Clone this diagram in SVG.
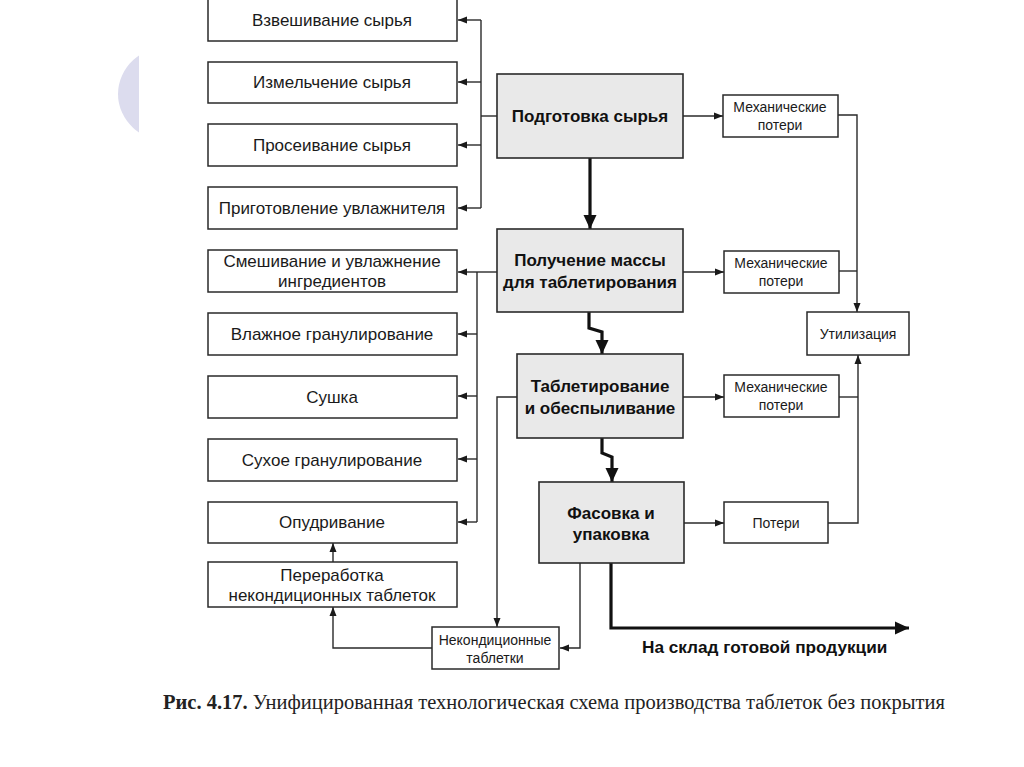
<svg xmlns="http://www.w3.org/2000/svg" width="1024" height="767" viewBox="0 0 1024 767">
<style>
.box{fill:#ffffff;stroke:#2a2a2a;stroke-width:1.5}
.cbox{fill:#e9e9e9;stroke:#2a2a2a;stroke-width:1.6}
.t{font-family:"Liberation Sans",Arial,sans-serif;font-size:17px;fill:#1a1a1a;text-anchor:middle}
.tb{font-family:"Liberation Sans",Arial,sans-serif;font-size:17px;font-weight:bold;fill:#111;text-anchor:middle}
.ts{font-family:"Liberation Sans",Arial,sans-serif;font-size:14px;fill:#1a1a1a;text-anchor:middle}
.ln{fill:none;stroke:#2a2a2a;stroke-width:1.4}
.thick{fill:none;stroke:#111;stroke-width:3.2}
.cap{font-family:"Liberation Serif","Times New Roman",serif;font-size:20.5px;fill:#222}
</style>
<defs>
<marker id="a" markerUnits="userSpaceOnUse" markerWidth="10" markerHeight="10" refX="9" refY="5" orient="auto">
<path d="M0,1.5 L9,5 L0,8.5 Z" fill="#1a1a1a"/>
</marker>
<marker id="A" markerUnits="userSpaceOnUse" markerWidth="16" markerHeight="16" refX="14" refY="8" orient="auto">
<path d="M0,1.5 L14,8 L0,14.5 Z" fill="#111"/>
</marker>
<clipPath id="cl"><rect x="100" y="0" width="39" height="200"/></clipPath>
</defs>
<rect width="1024" height="767" fill="#ffffff"/>
<ellipse cx="170" cy="94" rx="52" ry="48" fill="#dcdcee" clip-path="url(#cl)"/>

<g id="connectors">
<polyline class="ln" points="497,116 481,116"/>
<polyline class="ln" points="481,20 481,208"/>
<line class="ln" x1="481" y1="20" x2="458" y2="20" marker-end="url(#a)"/>
<line class="ln" x1="481" y1="82" x2="458" y2="82" marker-end="url(#a)"/>
<line class="ln" x1="481" y1="145" x2="458" y2="145" marker-end="url(#a)"/>
<line class="ln" x1="481" y1="208" x2="458" y2="208" marker-end="url(#a)"/>
<polyline class="ln" points="497,272 477,272"/>
<polyline class="ln" points="477,272 477,522"/>
<line class="ln" x1="477" y1="272" x2="458" y2="272" marker-end="url(#a)"/>
<line class="ln" x1="477" y1="334" x2="458" y2="334" marker-end="url(#a)"/>
<line class="ln" x1="477" y1="396" x2="458" y2="396" marker-end="url(#a)"/>
<line class="ln" x1="477" y1="459" x2="458" y2="459" marker-end="url(#a)"/>
<line class="ln" x1="477" y1="522" x2="458" y2="522" marker-end="url(#a)"/>
<polyline class="thick" points="590,158 590,229" marker-end="url(#A)"/>
<polyline class="thick" points="589,312 589,328 602,332 602,354" marker-end="url(#A)"/>
<polyline class="thick" points="602,438 602,453 612,457 612,482" marker-end="url(#A)"/>
<polyline class="thick" points="611,563 611,628 909,628" marker-end="url(#A)"/>
<line class="ln" x1="683" y1="116" x2="723" y2="116" marker-end="url(#a)"/>
<line class="ln" x1="683" y1="272" x2="724" y2="272" marker-end="url(#a)"/>
<line class="ln" x1="683" y1="397" x2="724" y2="397" marker-end="url(#a)"/>
<line class="ln" x1="684" y1="523" x2="724" y2="523" marker-end="url(#a)"/>
<polyline class="ln" points="838,115 857,115 857,312" marker-end="url(#a)"/>
<polyline class="ln" points="839,271 857,271"/>
<polyline class="ln" points="839,397 858,397"/>
<polyline class="ln" points="828,523 858,523 858,355" marker-end="url(#a)"/>
<polyline class="ln" points="517,397 497,397 497,627" marker-end="url(#a)"/>
<polyline class="ln" points="580,563 580,648 560,648" marker-end="url(#a)"/>
<polyline class="ln" points="432,648 333,648 333,607" marker-end="url(#a)"/>
<line class="ln" x1="333" y1="562" x2="333" y2="543" marker-end="url(#a)"/>
</g>

<g id="n1"><rect class="box" x="208" y="-1" width="249" height="42"/><text class="t" x="332" y="26">Взвешивание сырья</text></g>
<g id="n2"><rect class="box" x="208" y="62" width="249" height="41"/><text class="t" x="332" y="88">Измельчение сырья</text></g>
<g id="n3"><rect class="box" x="208" y="124" width="249" height="42"/><text class="t" x="332" y="151">Просеивание сырья</text></g>
<g id="n4"><rect class="box" x="208" y="187" width="249" height="42"/><text class="t" x="332" y="214">Приготовление увлажнителя</text></g>
<g id="n5"><rect class="box" x="208" y="250" width="249" height="42"/><text class="t" x="332" y="267">Смешивание и увлажнение</text><text class="t" x="332" y="287">ингредиентов</text></g>
<g id="n6"><rect class="box" x="208" y="313" width="249" height="42"/><text class="t" x="332" y="340">Влажное гранулирование</text></g>
<g id="n7"><rect class="box" x="208" y="376" width="249" height="42"/><text class="t" x="332" y="403">Сушка</text></g>
<g id="n8"><rect class="box" x="208" y="439" width="249" height="42"/><text class="t" x="332" y="466">Сухое гранулирование</text></g>
<g id="n9"><rect class="box" x="208" y="502" width="249" height="41"/><text class="t" x="332" y="528">Опудривание</text></g>
<g id="n10"><rect class="box" x="208" y="562" width="249" height="45"/><text class="t" x="332" y="581">Переработка</text><text class="t" x="332" y="601">некондиционных таблеток</text></g>

<g id="c1"><rect class="cbox" x="497" y="74" width="186" height="84"/><text class="tb" x="590" y="122">Подготовка сырья</text></g>
<g id="c2"><rect class="cbox" x="497" y="229" width="186" height="83"/><text class="tb" x="590" y="266">Получение массы</text><text class="tb" x="590" y="288">для таблетирования</text></g>
<g id="c3"><rect class="cbox" x="517" y="354" width="166" height="84"/><text class="tb" x="600" y="392">Таблетирование</text><text class="tb" x="600" y="414">и обеспыливание</text></g>
<g id="c4"><rect class="cbox" x="539" y="482" width="145" height="81"/><text class="tb" x="611" y="519">Фасовка и</text><text class="tb" x="611" y="540">упаковка</text></g>

<g id="m1"><rect class="box" x="723" y="95" width="115" height="42"/><text class="ts" x="780" y="112">Механические</text><text class="ts" x="780" y="130">потери</text></g>
<g id="m2"><rect class="box" x="724" y="251" width="115" height="42"/><text class="ts" x="781" y="268">Механические</text><text class="ts" x="781" y="286">потери</text></g>
<g id="m3"><rect class="box" x="724" y="375" width="115" height="42"/><text class="ts" x="781" y="392">Механические</text><text class="ts" x="781" y="410">потери</text></g>
<g id="m4"><rect class="box" x="724" y="502" width="104" height="41"/><text class="ts" x="776" y="528">Потери</text></g>
<g id="u"><rect class="box" x="807" y="312" width="102" height="43"/><text class="ts" x="858" y="339">Утилизация</text></g>
<g id="nk"><rect class="box" x="432" y="627" width="127" height="42"/><text class="ts" x="495" y="645">Некондиционные</text><text class="ts" x="495" y="663">таблетки</text></g>

<text x="642" y="653" font-family="Liberation Sans,Arial,sans-serif" font-size="17.2" font-weight="bold" fill="#111">На склад готовой продукции</text>
<text class="cap" x="163" y="709"><tspan font-weight="bold">Рис. 4.17.</tspan> Унифицированная технологическая схема производства таблеток без покрытия</text>
</svg>
